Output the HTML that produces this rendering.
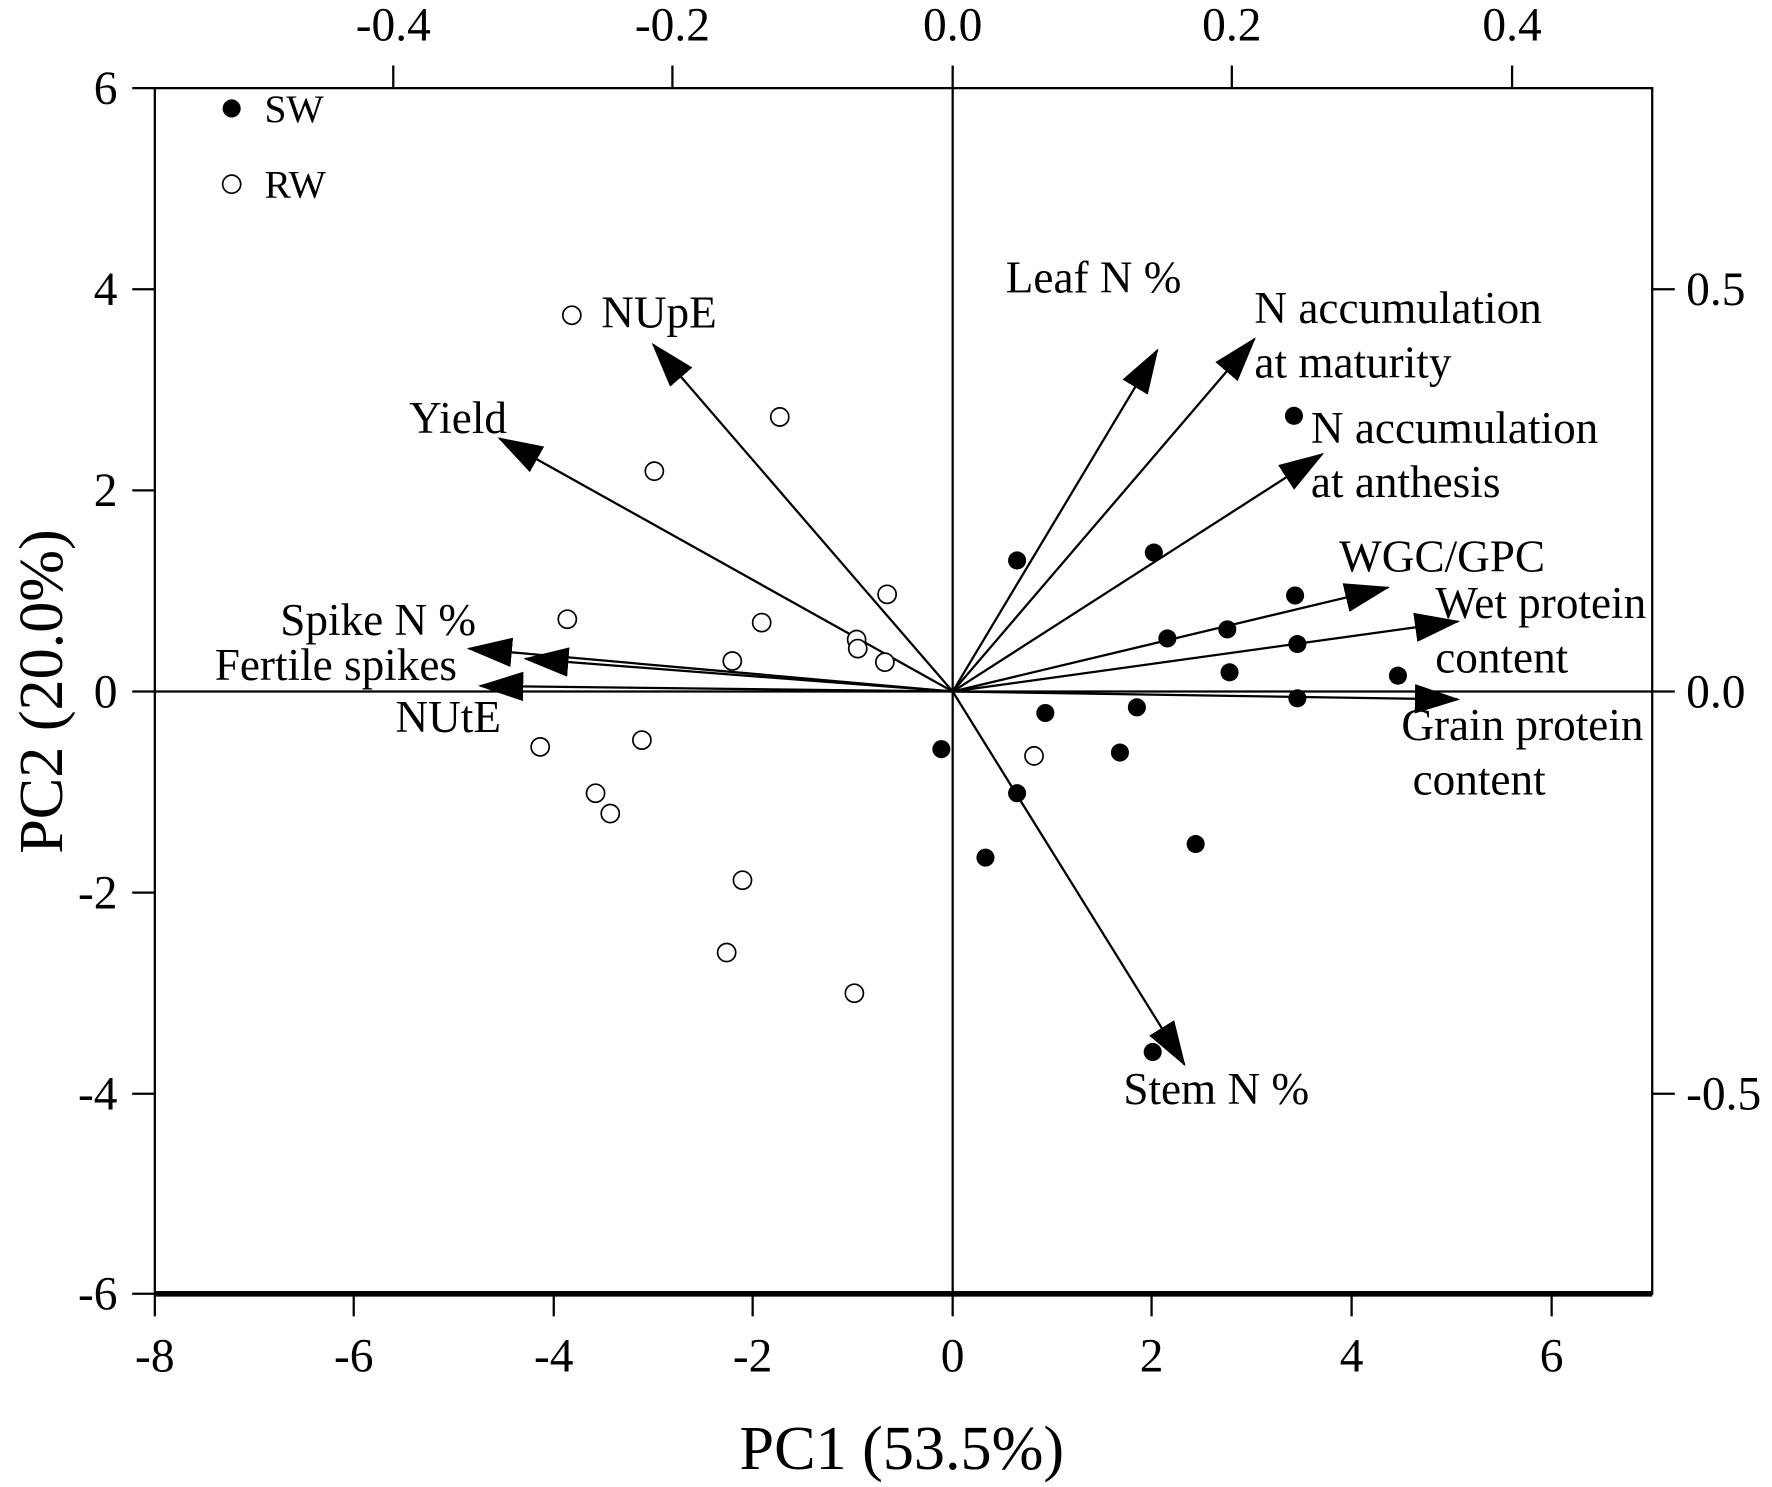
<!DOCTYPE html>
<html><head><meta charset="utf-8"><style>html,body{margin:0;padding:0;background:#fff}svg{display:block}</style></head>
<body>
<svg width="1772" height="1487" viewBox="0 0 1568 1316" preserveAspectRatio="none" xmlns="http://www.w3.org/2000/svg" font-family="Liberation Serif, serif" fill="#000">
<defs><marker id="ah" viewBox="0 0 40 26" refX="38" refY="13" markerWidth="40" markerHeight="26" markerUnits="userSpaceOnUse" orient="auto"><path d="M0,0 L40,13 L0,26 Z" fill="#000"/></marker></defs>
<g stroke="#000" stroke-width="2" fill="none">
<rect x="137" y="78" width="1325" height="1067"/>
<line x1="137" y1="1145" x2="1462" y2="1145" stroke-width="5"/>
<line x1="843" y1="78" x2="843" y2="1145"/>
<line x1="137" y1="612" x2="1462" y2="612"/>
<path d="M117,78H137M117,256H137M117,434H137M117,612H137M117,790H137M117,968H137M117,1145H137"/>
<path d="M137,1145V1165M313,1145V1165M490,1145V1165M666,1145V1165M843,1145V1165M1019,1145V1165M1196,1145V1165M1373,1145V1165"/>
<path d="M348,78V58M595,78V58M843,78V58M1090,78V58M1338,78V58"/>
<path d="M1462,256H1482M1462,612H1482M1462,968H1482"/>
</g>
<g font-size="42" text-anchor="middle">
<text x="137" y="1214">-8</text><text x="313" y="1214">-6</text><text x="490" y="1214">-4</text><text x="666" y="1214">-2</text><text x="843" y="1214">0</text><text x="1019" y="1214">2</text><text x="1196" y="1214">4</text><text x="1373" y="1214">6</text>
<text x="348" y="36">-0.4</text><text x="595" y="36">-0.2</text><text x="843" y="36">0.0</text><text x="1090" y="36">0.2</text><text x="1338" y="36">0.4</text>
</g>
<g font-size="42" text-anchor="end">
<text x="104" y="92">6</text><text x="104" y="270">4</text><text x="104" y="448">2</text><text x="104" y="626">0</text><text x="104" y="804">-2</text><text x="104" y="982">-4</text><text x="104" y="1159">-6</text>
</g>
<g font-size="42">
<text x="1492" y="270">0.5</text><text x="1492" y="626">0.0</text><text x="1492" y="982">-0.5</text>
</g>
<text x="798" y="1300" font-size="55" text-anchor="middle">PC1 (53.5%)</text>
<text transform="translate(55,612) rotate(-90)" font-size="55" text-anchor="middle">PC2 (20.0%)</text>
<g stroke="#000" stroke-width="2" marker-end="url(#ah)">
<line x1="843" y1="612" x2="1024" y2="310"/>
<line x1="843" y1="612" x2="1110" y2="300"/>
<line x1="843" y1="612" x2="1170" y2="402"/>
<line x1="843" y1="612" x2="1228" y2="520"/>
<line x1="843" y1="612" x2="1290" y2="550"/>
<line x1="843" y1="612" x2="1290" y2="619"/>
<line x1="843" y1="612" x2="1048" y2="942"/>
<line x1="843" y1="612" x2="578" y2="305"/>
<line x1="843" y1="612" x2="442" y2="388"/>
<line x1="843" y1="612" x2="415" y2="574"/>
<line x1="843" y1="612" x2="465" y2="583"/>
<line x1="843" y1="612" x2="425" y2="607"/>
</g>
<g font-size="40">
<text x="890" y="259">Leaf N %</text>
<text x="1110" y="286">N accumulation</text><text x="1110" y="334">at maturity</text>
<text x="1160" y="392">N accumulation</text><text x="1160" y="440">at anthesis</text>
<text x="1185" y="506">WGC/GPC</text>
<text x="1270" y="547">Wet protein</text><text x="1270" y="595">content</text>
<text x="1240" y="655">Grain protein</text><text x="1250" y="703">content</text>
<text x="994" y="977">Stem N %</text>
<text x="532" y="290">NUpE</text>
<text x="362" y="383">Yield</text>
<text x="248" y="562">Spike N %</text>
<text x="190" y="602">Fertile spikes</text>
<text x="350" y="648">NUtE</text>
<text x="234" y="108" font-size="35">SW</text>
<text x="234" y="175" font-size="35">RW</text>
</g>
<g>
<circle cx="205" cy="96" r="8"/>
<circle cx="1145" cy="368" r="8"/><circle cx="900" cy="496" r="8"/><circle cx="1021" cy="489" r="8"/><circle cx="1146" cy="527" r="8"/><circle cx="1033" cy="565" r="8"/><circle cx="1086" cy="557" r="8"/><circle cx="1148" cy="570" r="8"/><circle cx="1237" cy="598" r="8"/><circle cx="1088" cy="595" r="8"/><circle cx="1148" cy="618" r="8"/><circle cx="925" cy="631" r="8"/><circle cx="1006" cy="626" r="8"/><circle cx="833" cy="663" r="8"/><circle cx="991" cy="666" r="8"/><circle cx="900" cy="702" r="8"/><circle cx="872" cy="759" r="8"/><circle cx="1058" cy="747" r="8"/><circle cx="1020" cy="931" r="8"/>
</g>
<g fill="#fff" stroke="#000" stroke-width="1.5">
<circle cx="205" cy="163" r="8"/>
<circle cx="506" cy="279" r="8"/><circle cx="690" cy="369" r="8"/><circle cx="579" cy="417" r="8"/><circle cx="785" cy="526" r="8"/><circle cx="502" cy="548" r="8"/><circle cx="674" cy="551" r="8"/><circle cx="758" cy="566" r="8"/><circle cx="759" cy="574" r="8"/><circle cx="783" cy="586" r="8"/><circle cx="648" cy="585" r="8"/><circle cx="478" cy="661" r="8"/><circle cx="568" cy="655" r="8"/><circle cx="915" cy="669" r="8"/><circle cx="527" cy="702" r="8"/><circle cx="540" cy="720" r="8"/><circle cx="657" cy="779" r="8"/><circle cx="643" cy="843" r="8"/><circle cx="756" cy="879" r="8"/>
</g>
</svg>
</body></html>
